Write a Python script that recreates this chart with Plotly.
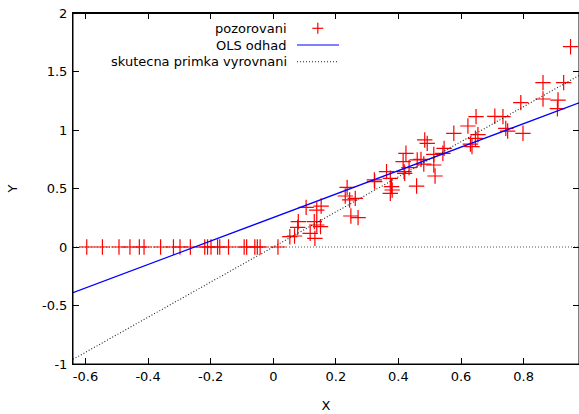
import numpy as np
import plotly.graph_objects as go

# ---- data ----
obs_x = [-0.596, -0.546, -0.493, -0.458, -0.428, -0.413, -0.360, -0.319, -0.298, -0.265,
         -0.219, -0.210, -0.199, -0.178, -0.171, -0.143, -0.093, -0.085, -0.059, -0.051,
         -0.042, 0.015,
         0.053, 0.068, 0.078, 0.080, 0.105, 0.118, 0.131, 0.133, 0.139, 0.139, 0.151, 0.153,
         0.230, 0.236, 0.244, 0.248, 0.262, 0.271,
         0.323, 0.324, 0.362, 0.374, 0.374, 0.378, 0.380,
         0.415, 0.418, 0.420, 0.424, 0.434, 0.458, 0.460, 0.472, 0.481, 0.484, 0.492,
         0.513, 0.513, 0.517, 0.542, 0.546,
         0.577, 0.622, 0.630, 0.635, 0.646, 0.648, 0.654,
         0.708, 0.734, 0.743, 0.749, 0.791, 0.798,
         0.862, 0.862, 0.908, 0.910, 0.928, 0.950]
obs_y = [0, 0, 0, 0, 0, 0, 0, 0, 0, 0,
         0, 0, 0, 0, 0, 0, 0, 0, 0, 0,
         0, 0,
         0.088, 0.094, 0.168, 0.217, 0.339, 0.117, 0.217, 0.074, 0.316, 0.188, 0.174, 0.350,
         0.436, 0.510, 0.402, 0.265, 0.416, 0.251,
         0.573, 0.558, 0.644, 0.587, 0.459, 0.516, 0.487,
         0.729, 0.644, 0.630, 0.801, 0.678, 0.521, 0.744, 0.749, 0.709, 0.915, 0.886,
         0.792, 0.701, 0.607, 0.801, 0.843,
         0.972, 1.034, 0.880, 0.858, 0.929, 1.114, 0.960,
         1.117, 1.114, 1.014, 0.991, 1.234, 0.972,
         1.405, 1.265, 1.182, 1.256, 1.405, 1.712]

ols_intercept, ols_slope = 0.252, 1.003     # OLS odhad
true_intercept, true_slope = 0.0, 1.5       # skutecna primka vyrovnani

x_range = [-0.64, 0.977]
y_range = [-1, 2]
x_ticks = [-0.6, -0.4, -0.2, 0, 0.2, 0.4, 0.6, 0.8]
x_ticklabels = ["-0.6", "-0.4", "-0.2", "0", "0.2", "0.4", "0.6", "0.8"]
y_ticks = [-1, -0.5, 0, 0.5, 1, 1.5, 2]
y_ticklabels = ["-1", "-0.5", "0", "0.5", "1", "1.5", "2"]
legend_labels = ["pozorovani", "OLS odhad", "skutecna primka vyrovnani"]

# ---- figure ----
line_x = np.array(x_range)
FONT = dict(family="DejaVu Sans", size=13, color="#000000")

fig = go.Figure()
fig.add_trace(go.Scatter(
    x=obs_x, y=obs_y, mode="markers", name=legend_labels[0],
    marker=dict(symbol="cross-thin-open", size=11, color="#ff0000",
                line=dict(color="#ff0000", width=1.2)),
))
fig.add_trace(go.Scatter(
    x=line_x, y=ols_intercept + ols_slope * line_x, mode="lines", name=legend_labels[1],
    line=dict(color="#0000ff", width=1.2),
))
fig.add_trace(go.Scatter(
    x=line_x, y=true_intercept + true_slope * line_x, mode="lines", name=legend_labels[2],
    line=dict(color="#222222", width=1.1, dash="1px,2px"),
))

# plot-area pixel geometry (window coordinates)
L, R, T, B = 73, 579, 13, 364
W, H = R - L, B - T
def px(v): return (v - L) / W
def py(v): return (B - v) / H

shapes = [
    dict(type="line", xref="paper", yref="y", x0=0, x1=1, y0=0, y1=0,
         line=dict(color="#555555", width=1, dash="1px,2px"), layer="below"),
    # plot frame
    dict(type="rect", xref="paper", yref="paper", x0=0, x1=1, y0=0, y1=1,
         line=dict(color="#000000", width=1), fillcolor="rgba(0,0,0,0)"),
    dict(type="line", xref="paper", yref="paper", x0=0, x1=1, y0=1, y1=1,
         line=dict(color="#000000", width=2)),
    # key samples
    dict(type="line", xref="paper", yref="paper", x0=px(312.3), x1=px(323.3), y0=py(28.3), y1=py(28.3),
         line=dict(color="#ff0000", width=1.2)),
    dict(type="line", xref="paper", yref="paper", x0=px(317.8), x1=px(317.8), y0=py(22.8), y1=py(33.8),
         line=dict(color="#ff0000", width=1.2)),
    dict(type="line", xref="paper", yref="paper", x0=px(297), x1=px(339), y0=py(45), y1=py(45),
         line=dict(color="#0000ff", width=1.2)),
    dict(type="line", xref="paper", yref="paper", x0=px(297), x1=px(339), y0=py(61.7), y1=py(61.7),
         line=dict(color="#222222", width=1.1, dash="1px,2px")),
]
annotations = [
    dict(text=t, xref="paper", yref="paper", x=px(289), y=py(yy), xanchor="right", yanchor="middle",
         showarrow=False, font=FONT)
    for t, yy in zip(legend_labels, [28.3, 45, 61.7])
]

axis_common = dict(showline=True, linecolor="#000000", linewidth=1, mirror="ticks",
                   ticks="inside", ticklen=6, tickcolor="#000000", tickwidth=1,
                   showgrid=False, zeroline=False, tickfont=FONT, ticklabeloverflow="allow")
fig.update_xaxes(range=x_range, tickvals=x_ticks, ticktext=x_ticklabels,
                 title=dict(text="X", font=FONT, standoff=18), **axis_common)
fig.update_yaxes(range=y_range, tickvals=y_ticks, ticktext=y_ticklabels, ticklabelstandoff=2,
                 title=dict(text="Y", font=FONT, standoff=21), **axis_common)

fig.update_layout(
    width=579, height=414,
    margin=dict(l=L, r=579 - R, t=T, b=414 - B, pad=0),
    paper_bgcolor="white", plot_bgcolor="white",
    showlegend=False, shapes=shapes, annotations=annotations,
    font=FONT,
)
fig.write_html("out.html", config={"displayModeBar": False},
               post_script="document.body.style.margin='0px';")
